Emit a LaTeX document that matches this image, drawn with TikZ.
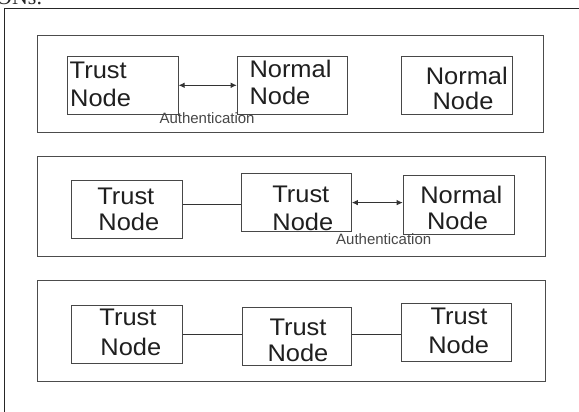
\documentclass[tikz,border=0pt]{standalone}
\usepackage{fontspec}
\setmainfont{Liberation Sans}
\newfontfamily\boxfont[FakeStretch=1.06]{Liberation Sans}
\newfontfamily\fragfont{Liberation Serif}
\usetikzlibrary{arrows.meta}
\begin{document}
\begin{tikzpicture}[x=1pt,y=-1pt,
  frame/.style={draw=black!85, line width=1.2pt},
  panel/.style={draw=black!70, line width=0.9pt},
  nodebox/.style={draw=black!72, line width=0.9pt, anchor=north west, inner sep=0pt},
  lbl/.style={font=\boxfont\fontsize{24}{26}\selectfont, text=black!88, inner sep=0pt, anchor=base},
  lblw/.style={lbl, anchor=base west},
  auth/.style={font=\fontsize{15}{17}\selectfont, text=black!72, inner sep=0pt, anchor=base west},
  link/.style={draw=black!80, line width=0.8pt},
  biarrow/.style={link, {Latex[length=6pt,width=5.5pt]}-{Latex[length=6pt,width=5.5pt]}}
]
\useasboundingbox (0,0) rectangle (579,412);
\fill[white] (0,0) rectangle (579,412);

% cropped fragment of text above the figure
\node[font=\fragfont\fontsize{22}{22}\selectfont, anchor=base west, inner sep=0pt, text=black!85] (frag) at (-4,5) {ONs.};

% outer frame
\draw[frame] (4.4,420) -- (4.4,8.3) -- (590,8.3);

% panels
\draw[panel] (37.3,35) rectangle (543.7,132.7);
\draw[panel] (37.3,156) rectangle (545.7,256);
\draw[panel] (37.5,280.3) rectangle (545.8,381);

% panel 1
\node[nodebox, minimum width=110.4pt, minimum height=57.7pt] (tnA) at (67.3,56) {};
\node[nodebox, minimum width=110pt, minimum height=57.7pt] (nnA) at (236.7,56) {};
\node[nodebox, minimum width=110.7pt, minimum height=58pt] (nnB) at (401,56) {};
\node[lblw] (tnAt) at (69.5,79) {Trust};
\node[lblw] (tnAn) at (70,106.7) {Node};
\node[lblw] (nnAt) at (249.3,78) {Normal};
\node[lblw] (nnAn) at (249.3,104.3) {Node};
\node[lbl] (nnBt) at (466.8,84.3) {Normal};
\node[lbl] (nnBn) at (463,110) {Node};
\draw[biarrow] (tnA.east) -- (nnA.west);
\node[auth] (authA) at (159.3,124) {Authentication};

% panel 2
\node[nodebox, minimum width=111.3pt, minimum height=57.7pt] (tnB) at (71,180) {};
\node[nodebox, minimum width=109.7pt, minimum height=57.7pt] (tnC) at (241.3,173.3) {};
\node[nodebox, minimum width=111.3pt, minimum height=59.3pt] (nnC) at (402.7,175) {};
\node[lbl] (tnBt) at (125.8,204.3) {Trust};
\node[lbl] (tnBn) at (128.8,230) {Node};
\node[lbl] (tnCt) at (300.8,202.3) {Trust};
\node[lbl] (tnCn) at (302.8,230) {Node};
\node[lbl] (nnCt) at (461.3,203.3) {Normal};
\node[lbl] (nnCn) at (457.5,229) {Node};
\draw[link] ([yshift=4.85pt]tnB.east) -- ([yshift=4.85pt]tnB.east -| tnC.west);
\draw[biarrow] (tnC.east) -- (tnC.east -| nnC.west);
\node[auth] (authB) at (336,244) {Authentication};

% panel 3
\node[nodebox, minimum width=110.7pt, minimum height=58.5pt] (tnD) at (71.3,304.5) {};
\node[nodebox, minimum width=109.3pt, minimum height=57.8pt] (tnE) at (241.5,307.2) {};
\node[nodebox, minimum width=110pt, minimum height=58pt] (tnF) at (401.4,303) {};
\node[lbl] (tnDt) at (128,325) {Trust};
\node[lbl] (tnDn) at (130.8,355.5) {Node};
\node[lbl] (tnEt) at (298,335) {Trust};
\node[lbl] (tnEn) at (298,361.5) {Node};
\node[lbl] (tnFt) at (459,324.7) {Trust};
\node[lbl] (tnFn) at (458.7,353) {Node};
\draw[link] (tnD.east) -- (tnD.east -| tnE.west);
\draw[link] (tnE.east |- tnD.east) -- (tnF.west |- tnD.east);
\end{tikzpicture}
\end{document}
